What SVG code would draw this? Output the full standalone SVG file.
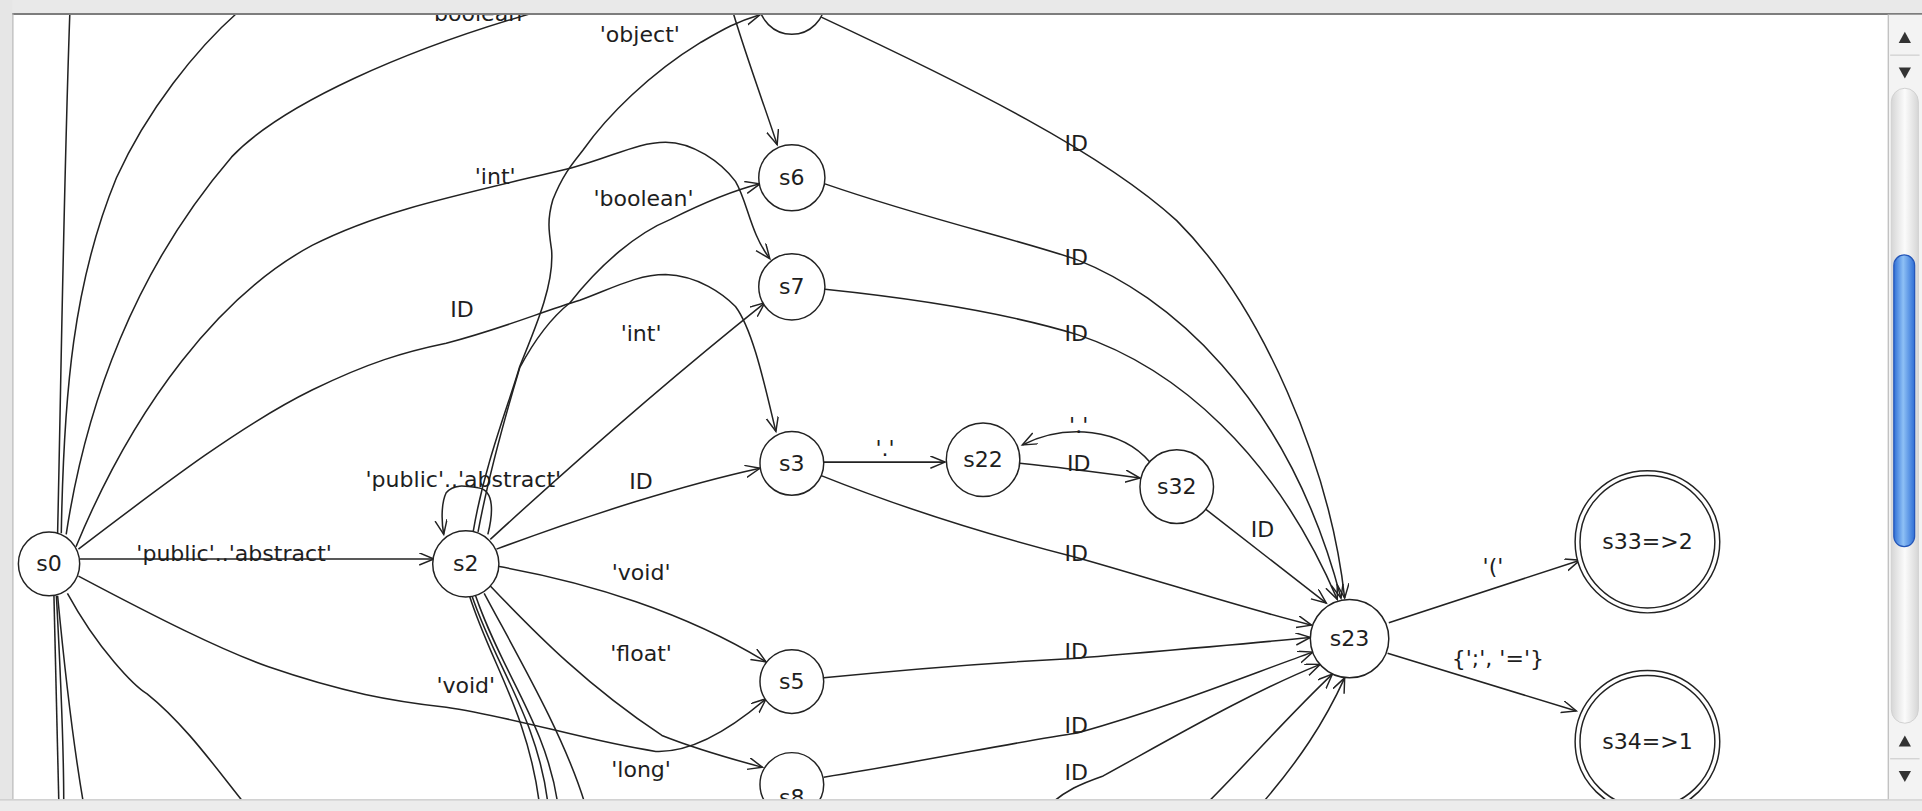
<svg xmlns="http://www.w3.org/2000/svg" width="1922" height="811" viewBox="0 0 1922 811">
<style>
.e{fill:none;stroke:#222;stroke-width:1.25}
.a{marker-end:url(#arr)}
.n{fill:#fff;stroke:#222;stroke-width:1.2}
.t{font-family:"DejaVu Sans",sans-serif;font-size:18px;fill:#1e1e1e;text-anchor:middle}
</style>
<defs>
<marker id="arr" markerUnits="userSpaceOnUse" markerWidth="14" markerHeight="12" refX="12" refY="5" orient="auto">
<path d="M0,0 L12,5 L0,10" fill="none" stroke="#222" stroke-width="1.2"/>
</marker>
<linearGradient id="thumb" x1="0" y1="0" x2="1" y2="0">
<stop offset="0" stop-color="#2f6fd6"/><stop offset="0.45" stop-color="#8ec0f5"/><stop offset="1" stop-color="#2f6fd6"/>
</linearGradient>
<linearGradient id="track" x1="0" y1="0" x2="1" y2="0">
<stop offset="0" stop-color="#d6d6d6"/><stop offset="0.5" stop-color="#fbfbfb"/><stop offset="1" stop-color="#d6d6d6"/>
</linearGradient>
</defs>
<rect width="1922" height="811" fill="#fff"/>
<g transform="scale(1.22577)">
<g id="connectors">
<path class="e" d="M47 435 C50 300 52 150 57 10"/>
<path class="e" d="M50 435 C52 320 60 230 95 145 C120 90 160 40 194 10"/>
<path class="e" d="M54 436 C70 330 110 220 189 128 C230 85 330 40 444 8"/>
<path class="e a" d="M62 446 C110 330 180 240 255 200 C310 172 370 160 466 137 C500 128 520 116 543 116 C565 116 588 132 600 148 C610 165 612 190 628 211"/>
<path class="e a" d="M64 448 C140 390 200 345 255 318 C300 296 330 287 364 280 C410 268 440 255 473 245 C500 235 520 224 543 224 C570 225 590 240 600 250 C615 270 625 320 633 352"/>
<path class="e a" d="M386 434 C395 380 415 330 424 299 C440 260 452 230 450 204 C448 190 446 180 451 163 C460 140 470 130 476 122 C495 95 530 60 571 35 C590 24 600 18 620 12"/>
<path class="e a" d="M390 434 C400 380 415 330 424 300 C440 270 455 255 465 247 C490 215 520 190 547 179 C575 165 600 155 620 150"/>
<path class="e a" d="M398 436 C402 420 404 400 390 398 C378 396 370 395 364 402 C360 410 360 425 362 436"/>
<path class="e a" d="M65 456 L354 456"/>
<path class="e a" d="M400 440 Q520 330 624 247"/>
<path class="e a" d="M405 448 C480 420 560 395 620 382"/>
<path class="e a" d="M406 462 C480 475 560 500 625 540"/>
<path class="e a" d="M400 478 C440 520 480 560 540 600 C570 612 600 620 622 626"/>
<path class="e a" d="M64 470 C130 505 180 530 219 544 C280 565 320 572 364 577 C420 585 480 605 535 613 C560 614 590 600 625 570"/>
<path class="e" d="M383 486 C400 540 430 580 440 655"/>
<path class="e" d="M385 486 C405 545 438 585 447 655"/>
<path class="e" d="M388 486 C410 550 445 590 455 655"/>
<path class="e" d="M395 484 C425 540 460 600 477 655"/>
<path class="e" d="M44 486 C46 560 47 610 48 655"/>
<path class="e" d="M46 486 C50 560 52 610 52 655"/>
<path class="e" d="M47 486 C55 570 62 620 68 655"/>
<path class="e" d="M55 484 C80 530 110 560 120 566 C150 590 175 625 199 655"/>
<path class="e a" d="M598 10 C610 50 625 90 634 118"/>
<path class="e a" d="M670 14 C790 70 900 125 960 180 C1030 250 1085 380 1097 488"/>
<path class="e a" d="M673 150 C760 180 830 195 879 212 C950 240 1050 320 1094 488"/>
<path class="e a" d="M673 236 C760 245 830 258 879 273 C960 300 1040 370 1091 489"/>
<path class="e a" d="M670 388 C750 420 820 440 879 455 C950 475 1010 495 1070 510"/>
<path class="e a" d="M672 553 C750 545 820 540 879 537 C960 530 1020 525 1069 520"/>
<path class="e a" d="M672 634 C760 620 830 605 879 598 C960 575 1020 550 1071 532"/>
<path class="e a" d="M858 655 C870 645 880 640 900 633 C960 600 1020 565 1077 542"/>
<path class="e a" d="M985 655 C1020 620 1050 585 1087 550"/>
<path class="e a" d="M1030 655 C1060 620 1080 590 1097 553"/>
<path class="e a" d="M672 377 L771 377"/>
<path class="e a" d="M832 378 C870 382 900 386 930 390"/>
<path class="e a" d="M938 377 C915 350 870 345 834 363"/>
<path class="e a" d="M983 415 L1082 492"/>
<path class="e a" d="M1133 508 L1289 457"/>
<path class="e a" d="M1132 533 L1286 580"/>
</g>
<g id="edge-labels">
<text class="t" x="390" y="17">'boolean'</text>
<text class="t" x="522" y="34">'object'</text>
<text class="t" x="404" y="150">'int'</text>
<text class="t" x="525" y="168">'boolean'</text>
<text class="t" x="377" y="259">ID</text>
<text class="t" x="523" y="278">'int'</text>
<text class="t" x="378" y="397">'public'..'abstract'</text>
<text class="t" x="523" y="399">ID</text>
<text class="t" x="191" y="458">'public'..'abstract'</text>
<text class="t" x="523" y="473">'void'</text>
<text class="t" x="523" y="539">'float'</text>
<text class="t" x="380" y="565">'void'</text>
<text class="t" x="523" y="634">'long'</text>
<text class="t" x="878" y="123">ID</text>
<text class="t" x="878" y="216">ID</text>
<text class="t" x="878" y="278">ID</text>
<text class="t" x="722" y="372">'.'</text>
<text class="t" x="880" y="353">'.'</text>
<text class="t" x="880" y="384">ID</text>
<text class="t" x="1030" y="438">ID</text>
<text class="t" x="878" y="458">ID</text>
<text class="t" x="878" y="538">ID</text>
<text class="t" x="878" y="598">ID</text>
<text class="t" x="878" y="636">ID</text>
<text class="t" x="1218" y="468">'('</text>
<text class="t" x="1222" y="543">{';', '='}</text>
</g>
<g id="s-top"><circle class="n" cx="646" cy="1" r="27"/></g>
<g id="s6"><circle class="n" cx="646" cy="145" r="27"/><text class="t" x="646" y="151">s6</text></g>
<g id="s7"><circle class="n" cx="646" cy="234" r="27"/><text class="t" x="646" y="240">s7</text></g>
<g id="s3"><circle class="n" cx="646" cy="378" r="26"/><text class="t" x="646" y="384">s3</text></g>
<g id="s22"><circle class="n" cx="802" cy="375" r="30"/><text class="t" x="802" y="381">s22</text></g>
<g id="s32"><circle class="n" cx="960" cy="397" r="30"/><text class="t" x="960" y="403">s32</text></g>
<g id="s0"><ellipse class="n" cx="40" cy="460" rx="25" ry="26"/><text class="t" x="40" y="466">s0</text></g>
<g id="s2"><circle class="n" cx="380" cy="460" r="27"/><text class="t" x="380" y="466">s2</text></g>
<g id="s23"><circle class="n" cx="1101" cy="521" r="32"/><text class="t" x="1101" y="527">s23</text></g>
<g id="s5"><circle class="n" cx="646" cy="556" r="26"/><text class="t" x="646" y="562">s5</text></g>
<g id="s8"><circle class="n" cx="646" cy="640" r="26"/><text class="t" x="646" y="657">s8</text></g>
<g id="s33"><ellipse class="n" cx="1344" cy="442" rx="59" ry="58"/><ellipse class="n" cx="1344" cy="442" rx="55" ry="54"/><text class="t" x="1344" y="448">s33=&gt;2</text></g>
<g id="s34"><ellipse class="n" cx="1344" cy="605" rx="59" ry="58"/><ellipse class="n" cx="1344" cy="605" rx="55" ry="54"/><text class="t" x="1344" y="611">s34=&gt;1</text></g>
<g id="frame">
<rect x="0" y="0" width="1568" height="11" fill="#e9e9e9"/>
<line x1="0" y1="11.5" x2="1568" y2="11.5" stroke="#7d7d7d" stroke-width="1.6"/>
<rect x="0" y="0" width="10" height="662" fill="#e6e6e6"/>
<line x1="10.5" y1="11" x2="10.5" y2="652" stroke="#b5b5b5" stroke-width="1"/>
<rect x="0" y="652" width="1568" height="10" fill="#ececec"/>
<line x1="0" y1="652.5" x2="1568" y2="652.5" stroke="#c9c9c9" stroke-width="1"/>
<rect x="1540" y="12" width="28" height="640" fill="#f3f3f3"/>
<line x1="1540.5" y1="12" x2="1540.5" y2="652" stroke="#bdbdbd" stroke-width="1"/>
<path d="M1549 35 L1554 26 L1559 35 Z" fill="#333"/>
<line x1="1542" y1="45" x2="1566" y2="45" stroke="#cfcfcf"/>
<path d="M1549 55 L1554 64 L1559 55 Z" fill="#333"/>
<rect x="1543" y="72" width="22" height="518" rx="11" fill="url(#track)" stroke="#d0d0d0" stroke-width="0.8"/>
<rect x="1545" y="208" width="17" height="238" rx="8.5" fill="url(#thumb)" stroke="#2456b8" stroke-width="1"/>
<path d="M1549 609 L1554 600 L1559 609 Z" fill="#333"/>
<line x1="1542" y1="619" x2="1566" y2="619" stroke="#cfcfcf"/>
<path d="M1549 629 L1554 638 L1559 629 Z" fill="#333"/>
</g>
</g>
</svg>
